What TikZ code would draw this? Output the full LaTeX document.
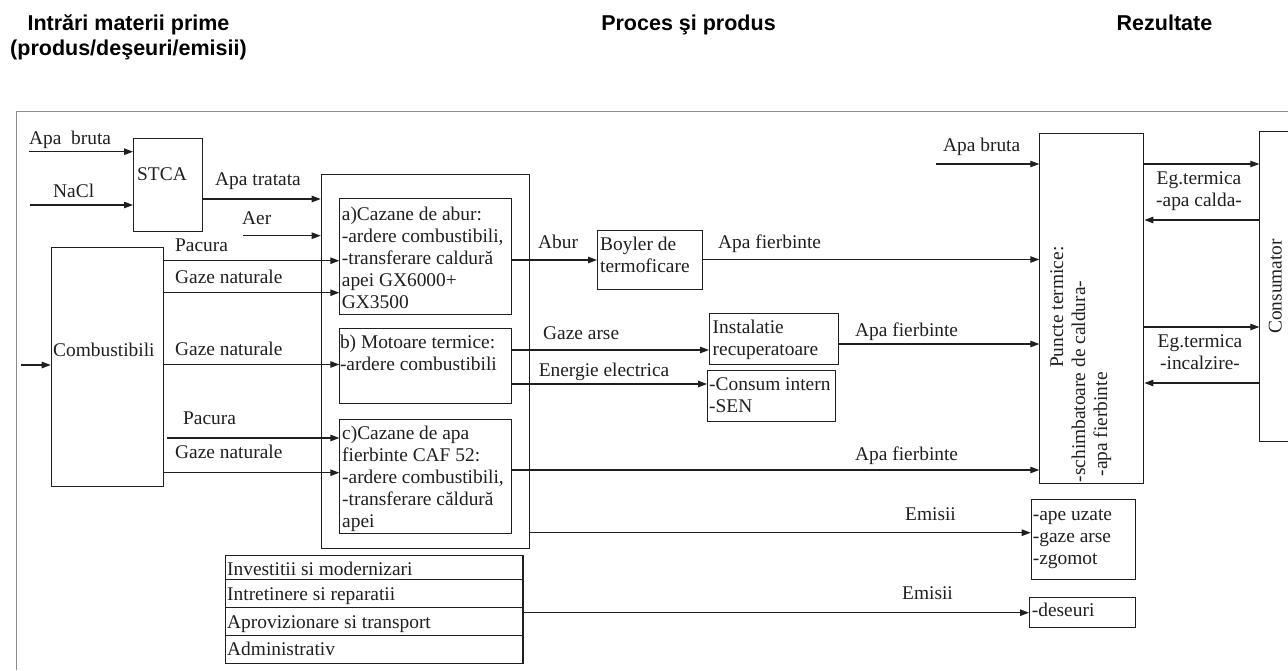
\documentclass[tikz,border=0pt]{standalone}
\usepackage{fontspec}
\setmainfont{Liberation Serif}
\newfontfamily\hdrfam{Liberation Sans}
\usetikzlibrary{arrows.meta}
\colorlet{ink}{black!88}
\newcommand\bodyfont{\fontsize{19.4}{22}\selectfont}
\newcommand\headfont{\hdrfam\bfseries\fontsize{21.5}{24.5}\selectfont}
\begin{document}
\begin{tikzpicture}[x=1pt,y=-1pt,
  bx/.style={draw=ink, line width=1.1pt, inner sep=0pt, anchor=north west},
  arr/.style={draw=ink, line width=1.1pt, -{Triangle[length=9pt,width=6.5pt]}},
  ln/.style={inner sep=0pt, anchor=base west, font=\bodyfont, text=ink},
  ml/.style={inner sep=0pt, anchor=north west, align=left, font=\bodyfont, text=ink},
  hd/.style={inner sep=0pt, font=\headfont, align=center},
  frame/.style={draw=black!45, line width=0.9pt}]
\useasboundingbox (0,0) rectangle (1288,670);
% headers
\node[hd, anchor=north] (h1) at (128.5,13.55) {\strut Intrări materii prime\\(produs/deşeuri/emisii)};
\node[hd, anchor=base] (h2) at (688.5,30.7) {Proces şi produs};
\node[hd, anchor=base] (h3) at (1164.5,30.7) {Rezultate};
% frame
\draw[frame] (16.7,670) -- (16.7,111.7) -- (1288,111.7);
% boxes
\node[bx, minimum width=69pt, minimum height=93pt] (stca) at (133,137.7) {};
\node[bx, minimum width=112.3pt, minimum height=239.3pt] (comb) at (50.7,246.7) {};
\node[bx, minimum width=208pt, minimum height=374pt] (proc) at (320.7,174) {};
\node[bx, minimum width=171.4pt, minimum height=115.7pt] (ba) at (339.3,198.3) {};
\node[bx, minimum width=171.4pt, minimum height=75pt] (bb) at (339.3,328) {};
\node[bx, minimum width=171.4pt, minimum height=113.7pt] (bc) at (339.3,419.3) {};
\node[bx, minimum width=104.7pt, minimum height=59pt] (boy) at (597,230) {};
\node[bx, minimum width=128.5pt, minimum height=50.7pt] (inst) at (709,313.3) {};
\node[bx, minimum width=128pt, minimum height=51pt] (cint) at (707,370) {};
\node[bx, minimum width=104pt, minimum height=350.6pt] (pt) at (1039.3,132.7) {};
\node[bx, draw=none, minimum width=28.7pt, minimum height=308.3pt] (csm) at (1259.3,131.7) {};
\draw[ink, line width=1.1pt] (csm.north east) -- (csm.north west) -- (csm.south west) -- (csm.south east);
\node[bx, minimum width=104.3pt, minimum height=80pt] (ape) at (1030.7,499.3) {};
\node[bx, minimum width=106pt, minimum height=29.7pt] (des) at (1029,597) {};
\node[bx, minimum width=297.8pt, minimum height=24pt] (t1) at (224.6,555) {};
\node[bx, minimum width=297.8pt, minimum height=28pt] (t2) at (224.6,579) {};
\node[bx, minimum width=297.8pt, minimum height=28pt] (t3) at (224.6,607) {};
\node[bx, minimum width=297.8pt, minimum height=28pt] (t4) at (224.6,635) {};
% box texts
\node[ln] (lstca) at (137,180.7) {STCA};
\node[ln] (lcomb) at (53,356.7) {Combustibili};
\node[ml] (la) at ([shift={(2.4,6.3)}]ba.north west) {\strut a)Cazane de abur:\\-ardere combustibili,\\-transferare caldură\\apei GX6000+\\GX3500};
\node[ml] (lb) at ([shift={(0.5,4.9)}]bb.north west) {\strut b) Motoare termice:\\-ardere combustibili};
\node[ml] (lc) at ([shift={(2.7,4.6)}]bc.north west) {\strut c)Cazane de apa\\fierbinte CAF 52:\\-ardere combustibili,\\-transferare căldură\\apei};
\node[ml] (lboy) at ([shift={(3,4.6)}]boy.north west) {\strut Boyler de\\termoficare};
\node[ml] (linst) at ([shift={(3.5,4.6)}]inst.north west) {\strut Instalatie\\recuperatoare};
\node[ml] (lcint) at ([shift={(2,4.6)}]cint.north west) {\strut -Consum intern\\-SEN};
\node[ml] (lape) at ([shift={(2,5.3)}]ape.north west) {\strut -ape uzate\\-gaze arse\\-zgomot};
\node[ln] (ldes) at (1031.7,616.7) {-deseuri};
\node[ln] (lt1) at (227,575) {Investitii si modernizari};
\node[ln] (lt2) at (227,600) {Intretinere si reparatii};
\node[ln] (lt3) at (227,628) {Aprovizionare si transport};
\node[ln] (lt4) at (227,655.5) {Administrativ};
\node[ml, rotate=90] (lpt) at (1047.5,482.5) {\strut\hspace*{114.5pt}Puncte termice:\\-schimbatoare de caldura-\\\hspace*{6pt}-apa fierbinte};
\node[inner sep=0pt, font=\bodyfont, text=ink, rotate=90] (lcsm) at ([xshift=1pt]csm.center) {Consumator};
% free ends
\coordinate (s1) at (29,151.7);
\coordinate (s2) at (30,205);
\coordinate (s3) at (243,235.7);
\coordinate (s4) at (21,365);
\coordinate (s5) at (167,438);
\coordinate (s6) at (936,164);
% arrows and labels
\draw[arr] (s1) -- (stca.west |- s1);
\node[ln] (t_ab) at (29,144.3) {Apa\ \ bruta};
\draw[arr] (s2) -- (stca.west |- s2);
\node[ln] (t_na) at (53,197.3) {NaCl};
\draw[arr] (stca.east |- 0,199) -- (proc.west |- 0,199);
\node[ln] (t_at) at (215,185.7) {Apa tratata};
\draw[arr] (s3) -- (proc.west |- s3);
\node[ln] (t_aer) at (242,224) {Aer};
\draw[arr] (comb.east |- 0,260.7) -- (ba.west |- 0,260.7);
\node[ln] (t_p1) at (175,251.7) {Pacura};
\draw[arr] (comb.east |- 0,292.7) -- (ba.west |- 0,292.7);
\node[ln] (t_g1) at (175,283.3) {Gaze naturale};
\draw[arr] (comb.east |- 0,364.5) -- (bb.west |- 0,364.5);
\node[ln] (t_g2) at (175,355) {Gaze naturale};
\draw[arr] (s5) -- (bc.west |- s5);
\node[ln] (t_p3) at (183,424) {Pacura};
\draw[arr] (comb.east |- 0,472.7) -- (bc.west |- 0,472.7);
\node[ln] (t_g3) at (175,458.3) {Gaze naturale};
\draw[arr] (s4) -- (comb.west |- s4);
\draw[arr] (ba.east |- 0,260) -- (boy.west |- 0,260);
\node[ln] (t_abur) at (538,248.3) {Abur};
\draw[arr] (boy.east |- 0,259.5) -- (pt.west |- 0,259.5);
\node[ln] (t_af1) at (718,248.3) {Apa fierbinte};
\draw[arr] (bb.east |- 0,350) -- (inst.west |- 0,350);
\node[ln] (t_ga) at (543,339) {Gaze arse};
\draw[arr] (bb.east |- 0,384) -- (cint.west |- 0,384);
\node[ln] (t_ee) at (538.6,376.7) {Energie electrica};
\draw[arr] (inst.east |- 0,344) -- (pt.west |- 0,344);
\node[ln] (t_af2) at (855,336) {Apa fierbinte};
\draw[arr] (bc.east |- 0,470) -- (pt.west |- 0,470);
\node[ln] (t_af3) at (855,460.7) {Apa fierbinte};
\draw[arr] (proc.east |- 0,532.7) -- (ape.west |- 0,532.7);
\node[ln] (t_e1) at (905,520) {Emisii};
\draw[arr] (t3.east |- 0,612.7) -- (des.west |- 0,612.7);
\node[ln] (t_e2) at (902,599.3) {Emisii};
\draw[arr] (s6) -- (pt.west |- s6);
\node[ln] (t_ab2) at (943,151.7) {Apa bruta};
\draw[arr] (pt.east |- 0,164) -- (csm.west |- 0,164);
\draw[arr] (csm.west |- 0,220) -- (pt.east |- 0,220);
\node[inner sep=0pt, anchor=north, align=center, font=\bodyfont, text=ink] (t_eg1) at (1199,168.9) {\strut Eg.termica\\-apa calda-};
\draw[arr] (pt.east |- 0,327) -- (csm.west |- 0,327);
\draw[arr] (csm.west |- 0,383) -- (pt.east |- 0,383);
\node[inner sep=0pt, anchor=north, align=center, font=\bodyfont, text=ink] (t_eg2) at (1200,331.9) {\strut Eg.termica\\-incalzire-};
\end{tikzpicture}
\end{document}
